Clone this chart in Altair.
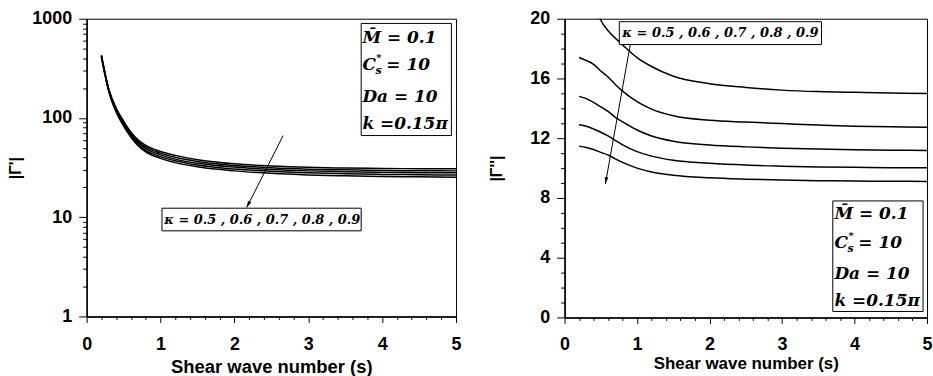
import altair as alt
import pandas as pd

# ---------------- data ----------------
s_grid = [0.2, 0.3, 0.4, 0.5, 0.6, 0.7, 0.8, 1.0, 1.2, 1.5, 2.0, 2.5, 3.0, 3.5, 4.0, 4.5, 5.0]
kappas = ["0.5", "0.6", "0.7", "0.8", "0.9"]

# |Gamma'| (left panel, log scale)
re_k05 = [430, 196, 126, 93, 72, 60, 53, 46, 42, 38, 34.5, 32.8, 31.8, 31.3, 31.0, 30.8, 30.7]
re_k06 = [425, 193, 123, 90.5, 70, 58, 51, 44.2, 40.2, 36.5, 33.2, 31.5, 30.5, 30.0, 29.6, 29.4, 29.3]
re_k07 = [420, 190, 120, 88, 68, 56, 49, 42.5, 38.5, 35, 32, 30.3, 29.3, 28.7, 28.3, 28.1, 28.0]
re_k08 = [415, 187, 117, 85.5, 66, 54, 47.2, 40.8, 37, 33.5, 30.6, 29.0, 28.0, 27.4, 27.0, 26.8, 26.6]
re_k09 = [410, 184, 114, 83, 64, 52.3, 45.5, 39.2, 35.5, 32.2, 29.3, 27.7, 26.7, 26.1, 25.7, 25.5, 25.3]

# |Gamma''| (right panel)
im_k05 = [24.5, 22.8, 21.2, 19.9, 19.2, 18.7, 18.25, 17.4, 16.8, 16.15, 15.65, 15.4, 15.22, 15.12, 15.07, 15.03, 15.0]
im_k06 = [17.4, 17.2, 16.95, 16.5, 16.1, 15.6, 15.15, 14.45, 13.95, 13.5, 13.2, 13.08, 12.98, 12.88, 12.8, 12.76, 12.73]
im_k07 = [14.8, 14.65, 14.4, 14.1, 13.8, 13.4, 13.1, 12.55, 12.15, 11.8, 11.55, 11.42, 11.33, 11.27, 11.22, 11.2, 11.18]
im_k08 = [12.9, 12.8, 12.62, 12.4, 12.15, 11.85, 11.55, 11.1, 10.8, 10.52, 10.32, 10.2, 10.13, 10.08, 10.05, 10.03, 10.02]
im_k09 = [11.47, 11.38, 11.24, 11.05, 10.88, 10.62, 10.38, 10.0, 9.74, 9.52, 9.35, 9.26, 9.2, 9.16, 9.13, 9.12, 9.11]

x_major = [0, 1, 2, 3, 4, 5]
x_minor = [0.2, 0.4, 0.6, 0.8, 1.2, 1.4, 1.6, 1.8, 2.2, 2.4, 2.6, 2.8,
           3.2, 3.4, 3.6, 3.8, 4.2, 4.4, 4.6, 4.8]
yl_major = [1, 10, 100, 1000]
yl_minor = [2, 3, 4, 5, 6, 7, 8, 9, 20, 30, 40, 50, 60, 70, 80, 90,
            200, 300, 400, 500, 600, 700, 800, 900]
yr_major = [0, 4, 8, 12, 16, 20]
yr_minor = [1, 2, 3, 5, 6, 7, 9, 10, 11, 13, 14, 15, 17, 18, 19]

kappa_label = "κ = 0.5 , 0.6 , 0.7 , 0.8 , 0.9"
param_m = "M̄ = 0.1"
param_c = "C"
param_c_rest = "= 10"
param_da = "Da = 10"
param_k = "k =0.15π"


def long_df(series):
    rows = []
    for k, vals in zip(kappas, series):
        for s, v in zip(s_grid, vals):
            rows.append({"s": s, "v": v, "kappa": k})
    return pd.DataFrame(rows)


df_left = long_df([re_k05, re_k06, re_k07, re_k08, re_k09])
df_right = long_df([im_k05, im_k06, im_k07, im_k08, im_k09])

AXF = "Liberation Sans"
ANF = "DejaVu Serif"

xs = alt.Scale(domain=[0, 5], nice=False, zero=False)
ysl = alt.Scale(type="log", domain=[1, 1000], nice=False)
ysr = alt.Scale(domain=[0, 20], nice=False, zero=False)


def x_axis_major(title_size, title_y, label_pad):
    return alt.Axis(values=x_major, format="d", tickSize=6, labelPadding=label_pad,
                    labelFlush=False, labelFontSize=18, labelFont=AXF,
                    labelFontWeight="bold", title="Shear wave number (s)",
                    titleFontSize=title_size, titleFont=AXF, titleFontWeight="bold",
                    titleY=title_y, titleBaseline="alphabetic", grid=False,
                    domainWidth=1.5)


def x_axis_minor():
    return alt.Axis(values=x_minor, orient="bottom", labels=False, tickSize=3,
                    grid=False, domain=False, title=None)


def y_axis_major(vals, title, title_x, fmt):
    return alt.Axis(values=vals, format=fmt, tickSize=8, labelPadding=7,
                    labelFlush=False, labelFontSize=18, labelFont=AXF,
                    labelFontWeight="bold", title=title, titleFontSize=16,
                    titleFont=AXF, titleFontWeight="bold", titleX=title_x,
                    titleBaseline="middle", grid=False, domainWidth=1.5)


def y_axis_minor(vals):
    return alt.Axis(values=vals, orient="left", labels=False, tickSize=4,
                    grid=False, domain=False, title=None)


def text_layer(df, yscale, size, dx=0, dy=0, font=ANF):
    return alt.Chart(df).mark_text(
        align="left", baseline="middle", font=font, fontStyle="italic",
        fontWeight="bold", fontSize=size, color="black", dx=dx, dy=dy
    ).encode(
        x=alt.X("x:Q", scale=xs, axis=None),
        y=alt.Y("y:Q", scale=yscale, axis=None),
        text="t:N",
    )


def box_layers(df, yscale):
    shadow = alt.Chart(df).mark_rect(fill="#9a9a9a", xOffset=1.5, yOffset=1.5).encode(
        x=alt.X("x:Q", scale=xs, axis=None), x2="x2:Q",
        y=alt.Y("y:Q", scale=yscale, axis=None), y2="y2:Q")
    box = alt.Chart(df).mark_rect(fill="white", stroke="black", strokeWidth=1).encode(
        x=alt.X("x:Q", scale=xs, axis=None), x2="x2:Q",
        y=alt.Y("y:Q", scale=yscale, axis=None), y2="y2:Q")
    return [shadow, box]


def arrow_layers(df, yscale, angle):
    line = alt.Chart(df).mark_rule(color="black", strokeWidth=1).encode(
        x=alt.X("x:Q", scale=xs, axis=None), x2="x2:Q",
        y=alt.Y("y:Q", scale=yscale, axis=None), y2="y2:Q")
    head = alt.Chart(df).mark_point(
        shape="M0,0L-0.45,1.6L0.45,1.6Z", filled=True, color="black",
        opacity=1, size=70, angle=angle
    ).encode(
        x=alt.X("x2:Q", scale=xs, axis=None),
        y=alt.Y("y2:Q", scale=yscale, axis=None))
    return [line, head]


def params_layers(x0, ys, yscale):
    d_m = pd.DataFrame({"x": [x0], "y": [ys[0]], "t": [param_m]})
    d_c = pd.DataFrame({"x": [x0], "y": [ys[1]], "t": [param_c]})
    d_star = pd.DataFrame({"x": [x0], "y": [ys[1]], "t": ["*"]})
    d_sub = pd.DataFrame({"x": [x0], "y": [ys[1]], "t": ["s"]})
    d_cr = pd.DataFrame({"x": [x0], "y": [ys[1]], "t": [param_c_rest]})
    d_da = pd.DataFrame({"x": [x0], "y": [ys[2]], "t": [param_da]})
    d_k = pd.DataFrame({"x": [x0], "y": [ys[3]], "t": [param_k]})
    return [
        text_layer(d_m, yscale, 17),
        text_layer(d_c, yscale, 17),
        text_layer(d_star, yscale, 10, dx=14, dy=-7),
        text_layer(d_sub, yscale, 11, dx=13, dy=6),
        text_layer(d_cr, yscale, 17, dx=24),
        text_layer(d_da, yscale, 17),
        text_layer(d_k, yscale, 17),
    ]


# ---------------- left panel ----------------
lines_l = alt.Chart(df_left).mark_line(color="black", strokeWidth=1.5, interpolate="monotone", clip=True).encode(
    x=alt.X("s:Q", scale=xs, axis=x_axis_major(18.5, 56, 13)),
    y=alt.Y("v:Q", scale=ysl, axis=y_axis_major(yl_major, "|Γ'|", -71, "d")),
    detail="kappa:N",
)
minor_l = alt.Chart(df_left).mark_point(opacity=0, clip=True).encode(
    x=alt.X("s:Q", scale=xs, axis=x_axis_minor()),
    y=alt.Y("v:Q", scale=ysl, axis=y_axis_minor(yl_minor)),
)
kbox_l = pd.DataFrame({"x": [1.02], "x2": [3.716], "y": [12.32], "y2": [7.29]})
ktext_l = pd.DataFrame({"x": [1.05], "y": [9.47], "t": [kappa_label]})
pbox_l = pd.DataFrame({"x": [3.716], "x2": [4.937], "y": [897], "y2": [66.5]})
arrow_l = pd.DataFrame({"x": [2.66], "y": [66.5], "x2": [2.166], "y2": [12.5]})

left = alt.layer(
    lines_l, minor_l,
    *arrow_layers(arrow_l, ysl, 207),
    *box_layers(kbox_l, ysl),
    text_layer(ktext_l, ysl, 13),
    *box_layers(pbox_l, ysl),
    *params_layers(3.733, [645, 338, 161, 87.4], ysl),
).resolve_axis(x="independent", y="independent").properties(width=371, height=299)

# ---------------- right panel ----------------
lines_r = alt.Chart(df_right).mark_line(color="black", strokeWidth=1.5, interpolate="monotone", clip=True).encode(
    x=alt.X("s:Q", scale=xs, axis=x_axis_major(17, 51, 12)),
    y=alt.Y("v:Q", scale=ysr, axis=y_axis_major(yr_major, "|Γ''|", -68, "d")),
    detail="kappa:N",
)
minor_r = alt.Chart(df_right).mark_point(opacity=0, clip=True).encode(
    x=alt.X("s:Q", scale=xs, axis=x_axis_minor()),
    y=alt.Y("v:Q", scale=ysr, axis=y_axis_minor(yr_minor)),
)
kbox_r = pd.DataFrame({"x": [0.755], "x2": [3.544], "y": [19.8], "y2": [18.27]})
ktext_r = pd.DataFrame({"x": [0.797], "y": [19.03], "t": [kappa_label]})
pbox_r = pd.DataFrame({"x": [3.70], "x2": [4.945], "y": [7.8], "y2": [0.4]})
arrow_r = pd.DataFrame({"x": [0.907], "y": [18.29], "x2": [0.563], "y2": [8.95]})

right = alt.layer(
    lines_r, minor_r,
    *arrow_layers(arrow_r, ysr, 190),
    *box_layers(kbox_r, ysr),
    text_layer(ktext_r, ysr, 13),
    *box_layers(pbox_r, ysr),
    *params_layers(3.723, [6.9, 5.01, 2.9, 1.07], ysr),
).resolve_axis(x="independent", y="independent").properties(width=364, height=300)

chart = alt.hconcat(left, right, spacing=26).properties(
    padding={"left": 7, "top": 8, "right": 0, "bottom": 0},
    background="white",
).configure_view(stroke="black", strokeWidth=1).configure_axis(
    domainColor="black", tickColor="black", labelColor="black", titleColor="black",
    tickWidth=1,
)

chart.save("out.html", embed_options={"renderer": "svg", "actions": False})
